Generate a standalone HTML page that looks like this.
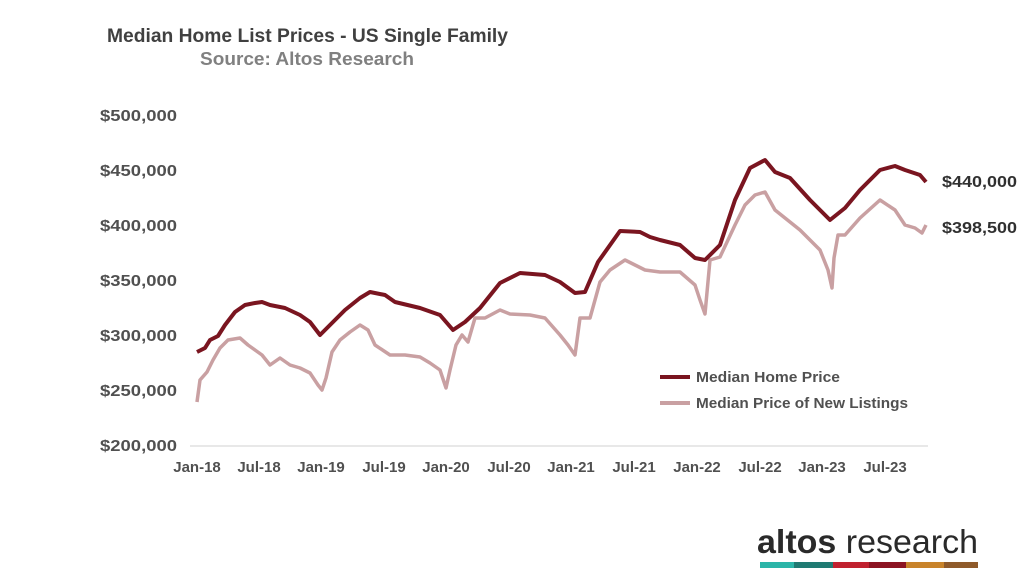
<!DOCTYPE html>
<html><head><meta charset="utf-8"><style>
body{margin:0;width:1024px;height:576px;background:#fff;overflow:hidden}
svg{display:block;font-family:"Liberation Sans",Arial,sans-serif}
</style></head><body>
<svg width="1024" height="576" viewBox="0 0 1024 576">
<text x="107" y="42" font-size="19" font-weight="bold" fill="#404040" textLength="401" lengthAdjust="spacingAndGlyphs">Median Home List Prices - US Single Family</text>
<text x="200" y="65" font-size="18" font-weight="bold" fill="#808080" textLength="214" lengthAdjust="spacingAndGlyphs">Source: Altos Research</text>
<g font-size="16" font-weight="bold" fill="#505050">
<text x="100" y="121" textLength="77" lengthAdjust="spacingAndGlyphs">$500,000</text><text x="100" y="176" textLength="77" lengthAdjust="spacingAndGlyphs">$450,000</text><text x="100" y="231" textLength="77" lengthAdjust="spacingAndGlyphs">$400,000</text>
<text x="100" y="286" textLength="77" lengthAdjust="spacingAndGlyphs">$350,000</text><text x="100" y="341" textLength="77" lengthAdjust="spacingAndGlyphs">$300,000</text><text x="100" y="396" textLength="77" lengthAdjust="spacingAndGlyphs">$250,000</text><text x="100" y="451" textLength="77" lengthAdjust="spacingAndGlyphs">$200,000</text>
</g>
<line x1="190" y1="446" x2="928" y2="446" stroke="#d0d0d0" stroke-width="1"/>
<g font-size="15" font-weight="bold" fill="#505050" text-anchor="middle">
<text x="197" y="472">Jan-18</text><text x="259" y="472">Jul-18</text><text x="321" y="472">Jan-19</text><text x="384" y="472">Jul-19</text>
<text x="446" y="472">Jan-20</text><text x="509" y="472">Jul-20</text><text x="571" y="472">Jan-21</text><text x="634" y="472">Jul-21</text>
<text x="697" y="472">Jan-22</text><text x="760" y="472">Jul-22</text><text x="822" y="472">Jan-23</text><text x="885" y="472">Jul-23</text>
</g>
<polyline fill="none" stroke="#c9a0a2" stroke-width="3.5" stroke-linejoin="round" points="197,402 200,380 207,372 213,360 220,348 228,340 240,338 248,345 255,350 262,355 270,365 280,358 290,365 300,368 310,373 318,385 322,390 326,378 332,352 340,340 350,332 360,325 368,330 375,345 390,355 405,355 420,357 430,363 440,370 446,388 450,370 456,345 462,335 468,342 475,318 485,318 500,310 510,314 530,315 545,318 560,335 568,345 575,355 580,318 590,318 600,282 610,270 625,260 635,265 645,270 660,272 680,272 695,285 700,300 705,314 710,260 720,257 735,225 745,205 755,195 765,192 775,210 785,218 800,230 820,250 828,270 832,288 834,258 838,235 845,235 860,218 880,200 895,210 905,225 915,228 922,233 926,225"/>
<polyline fill="none" stroke="#7a1520" stroke-width="4" stroke-linejoin="round" points="197,352 205,348 210,340 218,336 225,325 235,312 245,305 255,303 262,302 270,305 285,308 300,315 310,322 320,335 330,325 345,310 360,298 370,292 385,295 395,302 420,308 440,315 453,330 465,322 480,308 500,283 520,273 545,275 560,282 575,293 585,292 598,262 620,231 640,232 650,237 660,240 680,245 695,258 705,260 720,245 735,200 750,168 765,160 775,172 790,178 810,200 830,220 845,208 860,190 880,170 895,166 905,170 920,175 926,182"/>
<line x1="660" y1="377" x2="690" y2="377" stroke="#7a1520" stroke-width="4"/>
<line x1="660" y1="403" x2="690" y2="403" stroke="#c9a0a2" stroke-width="4"/>
<g font-size="15" font-weight="bold" fill="#505050">
<text x="696" y="382" textLength="144" lengthAdjust="spacingAndGlyphs">Median Home Price</text><text x="696" y="408" textLength="212" lengthAdjust="spacingAndGlyphs">Median Price of New Listings</text>
</g>
<g font-size="16" font-weight="bold" fill="#303030">
<text x="942" y="187" textLength="75" lengthAdjust="spacingAndGlyphs">$440,000</text><text x="942" y="233" textLength="75" lengthAdjust="spacingAndGlyphs">$398,500</text>
</g>
<text x="757" y="553" font-size="33" fill="#2a2a2a" textLength="221" lengthAdjust="spacingAndGlyphs"><tspan font-weight="bold">altos</tspan> research</text>
<rect x="760" y="562" width="34" height="6" fill="#2bb5a8"/>
<rect x="794" y="562" width="39" height="6" fill="#1f7a72"/>
<rect x="833" y="562" width="36" height="6" fill="#c0212f"/>
<rect x="869" y="562" width="37" height="6" fill="#8c1422"/>
<rect x="906" y="562" width="38" height="6" fill="#c8832a"/>
<rect x="944" y="562" width="34" height="6" fill="#8f5a2a"/>
</svg>
</body></html>
